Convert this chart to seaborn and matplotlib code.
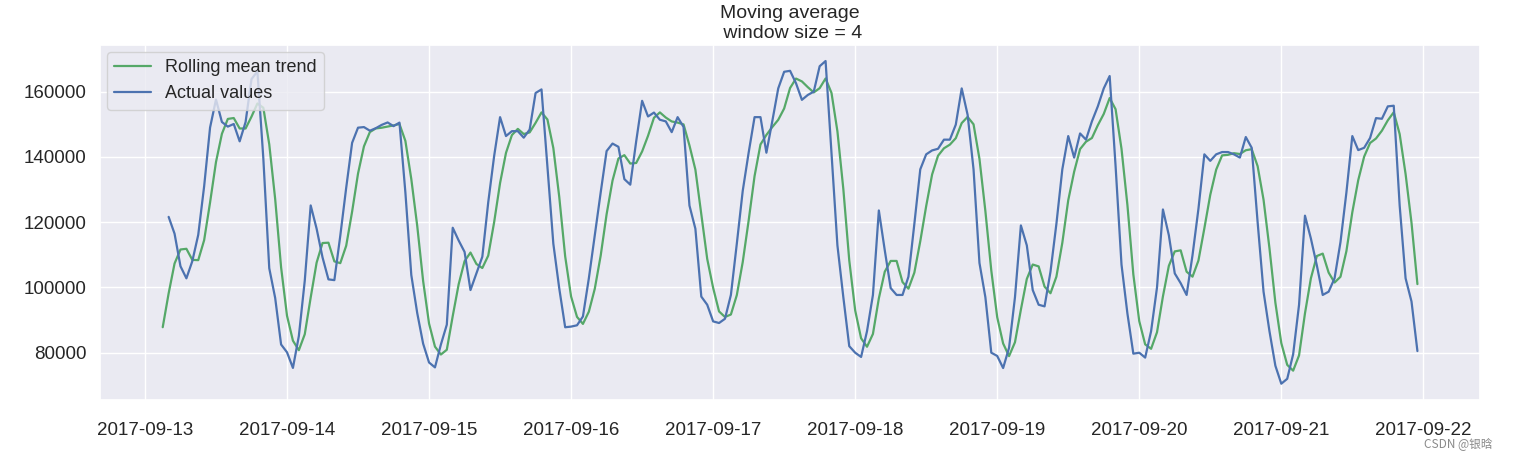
import numpy as np
import pandas as pd
import matplotlib
matplotlib.use("Agg")
import matplotlib.pyplot as plt
import matplotlib.dates as mdates
import seaborn as sns

# =========================================
# DATA (hourly ads)
# =========================================

START = "2017-09-13 00:00"
WINDOW = 4

day_13 = [80115, 79885, 89325, 101930, 121630, 116475, 106495, 102795,
          108055, 116125, 131030, 149020, 157590, 150715, 149295, 150100,
          144780, 150690, 163840, 166235, 139520, 105895, 96780, 82520]
day_14 = [80125, 75335, 85105, 102080, 125135, 118030, 109225, 102475,
          102240, 115840, 130540, 144325, 148970, 149150, 148040, 148810,
          149830, 150570, 149440, 150520, 129130, 103815, 92175, 82765]
day_15 = [77000, 75500, 82500, 88600, 118300, 114400, 110900, 99200,
          104300, 109400, 126100, 140300, 152200, 146400, 147900, 147900,
          145900, 148400, 159600, 160700, 137200, 113400, 99700, 87800]
day_16 = [88000, 88400, 91100, 102800, 116000, 129100, 141800, 144100,
          143100, 133200, 131500, 144800, 157200, 152400, 153600, 151400,
          150900, 147600, 152200, 149200, 125100, 118000, 97200, 94700]
day_17 = [89600, 89100, 90400, 97700, 113400, 129600, 141300, 152200,
          152200, 141300, 151000, 161000, 166100, 166400, 162600, 157500,
          159000, 160000, 167800, 169400, 141300, 112900, 97000, 82000]
day_18 = [80000, 78700, 86600, 97700, 123600, 111400, 99800, 97700,
          97700, 103300, 119500, 136200, 140800, 142000, 142500, 145300,
          145300, 149900, 161000, 152900, 136200, 107500, 97000, 80000]
day_19 = [79000, 75300, 81500, 97000, 119000, 112900, 99200, 94700,
          94200, 104800, 119500, 136200, 146400, 139800, 147200, 145300,
          150900, 155500, 161000, 164800, 137200, 107000, 92000, 79700]
day_20 = [80000, 78500, 86600, 100000, 123900, 116000, 104300, 101300,
          97700, 109900, 124100, 140800, 138800, 140800, 141500, 141500,
          140800, 139800, 146100, 142800, 120000, 98700, 86600, 76000]
day_21 = [70500, 72000, 79500, 94700, 122000, 115000, 106800, 97700,
          98700, 102800, 113900, 129100, 146400, 142100, 142800, 145800,
          151900, 151700, 155500, 155700, 125100, 102800, 95700, 80500]

ads = day_13 + day_14 + day_15 + day_16 + day_17 + day_18 + day_19 + day_20 + day_21

series = pd.Series(ads, index=pd.date_range(START, periods=len(ads), freq="h"))
rolling_mean = series.rolling(window=WINDOW).mean()
actual = series[WINDOW:]

# =========================================
# STYLE
# =========================================

sns.set_theme(style="darkgrid")
plt.rcParams["font.family"] = ["Liberation Sans", "DejaVu Sans"]

GREEN = "#55A868"
BLUE = "#4C72B0"

# =========================================
# PLOT
# =========================================

fig, ax = plt.subplots(figsize=(15.15, 4.58), dpi=100)
fig.subplots_adjust(left=0.066, right=0.977, top=0.902, bottom=0.127)

sns.lineplot(x=rolling_mean.index, y=rolling_mean.values, color=GREEN,
             linewidth=1.6, label="Rolling mean trend", ax=ax)
sns.lineplot(x=actual.index, y=actual.values, color=BLUE,
             linewidth=1.6, label="Actual values", ax=ax)

ax.set_title("Moving average\n window size = {}".format(WINDOW),
             fontsize=14, color="#262626", linespacing=1.2, pad=5)
ax.xaxis.set_major_locator(mdates.DayLocator())
ax.xaxis.set_major_formatter(mdates.DateFormatter("%Y-%m-%d"))
ax.tick_params(axis="both", labelsize=13.5, colors="#262626")
ax.tick_params(axis="x", pad=10)
ax.set_xlabel("")
ax.set_ylabel("")

ax.legend(loc="upper left", fontsize=13, borderaxespad=0.4,
          handlelength=2.0, frameon=True)

fig.text(0.985, 0.015, "CSDN @银晗", ha="right", va="bottom",
         fontsize=8.5, color="#8a8a8a",
         family=["Noto Sans CJK SC", "DejaVu Sans"])

plt.savefig("out.png", dpi=100)
plt.close()
